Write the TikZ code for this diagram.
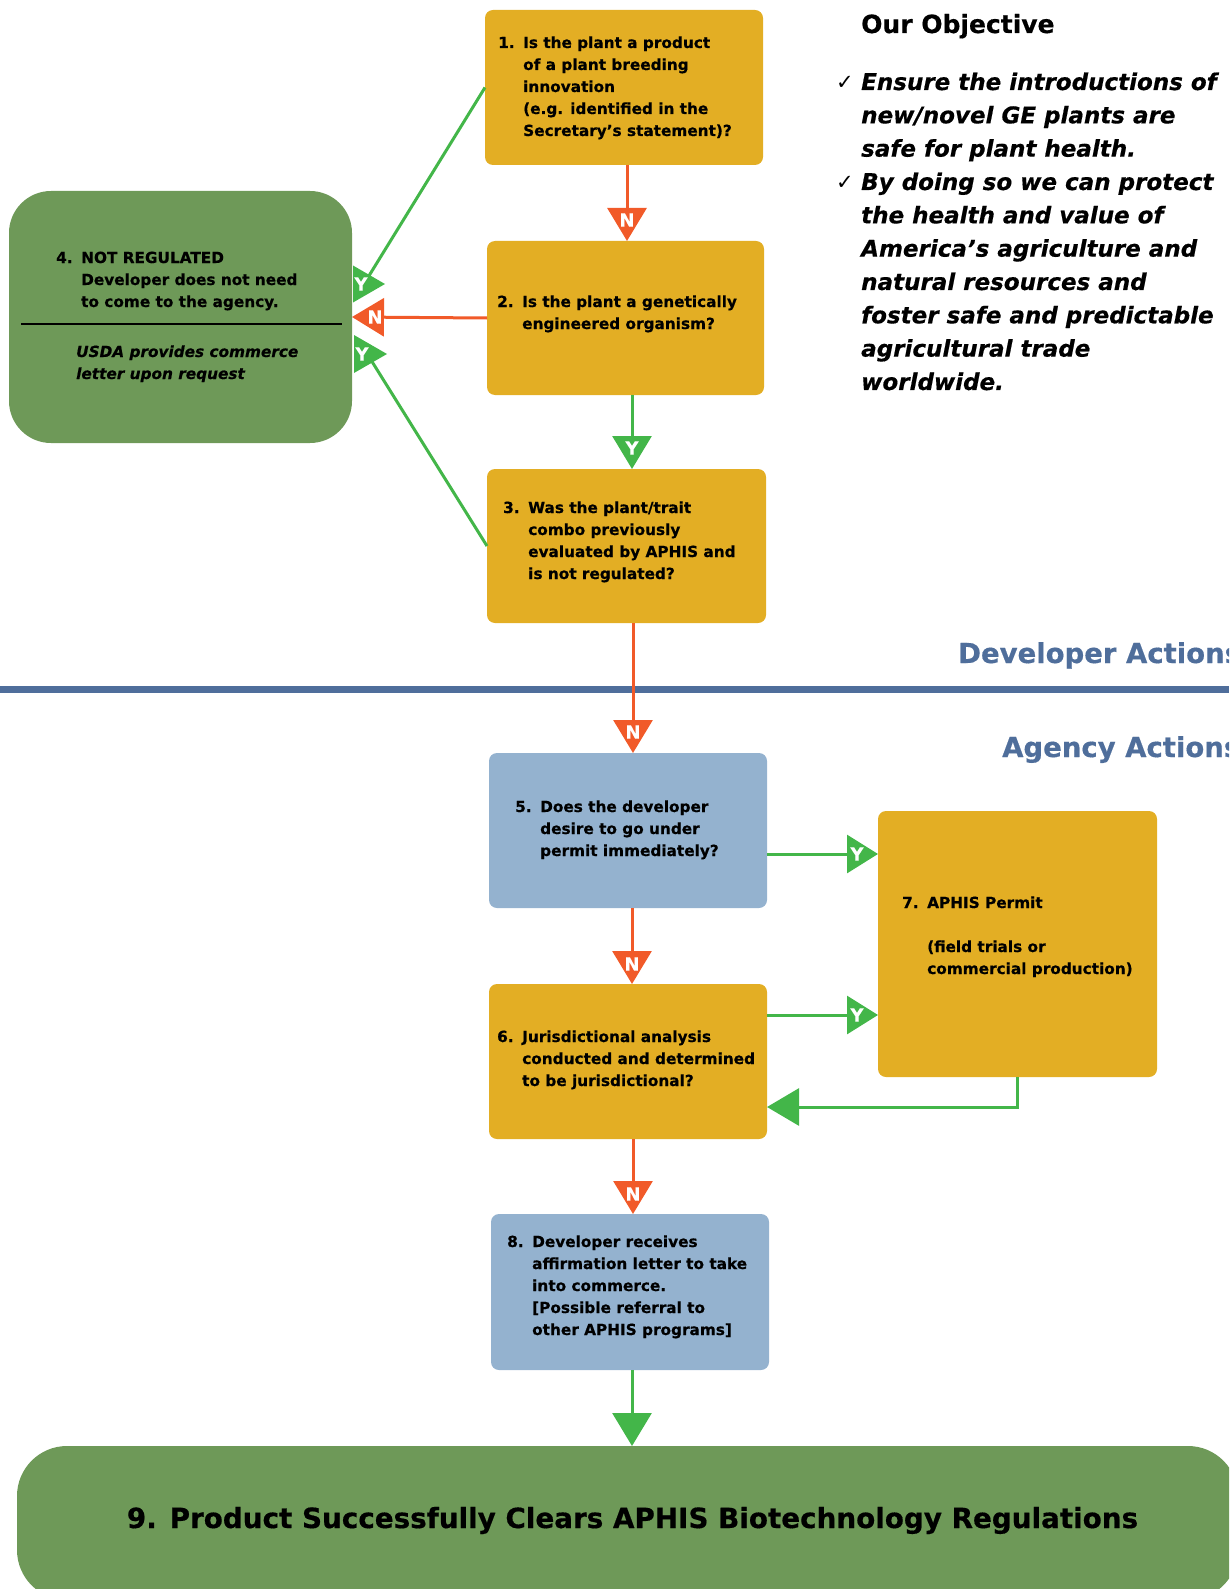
\documentclass[tikz,border=0pt]{standalone}
\usepackage{fontspec}
\setmainfont{DejaVu Sans}[BoldFont={DejaVu Sans Bold},ItalicFont={DejaVu Sans Oblique},BoldItalicFont={DejaVu Sans Bold Oblique},BoldFeatures={FakeBold=0.5},BoldItalicFeatures={FakeBold=0.5}]
\usetikzlibrary{arrows.meta,calc}
\definecolor{gold}{HTML}{E3AE24}
\definecolor{boxgreen}{HTML}{6E9958}
\definecolor{boxblue}{HTML}{94B2CF}
\definecolor{agreen}{HTML}{43B649}
\definecolor{orn}{HTML}{F15A29}
\definecolor{divblue}{HTML}{4F6E9B}
\newcommand\numtext[2]{\makebox[25pt][l]{#1}\begin{tabular}[t]{@{}l@{}}#2\end{tabular}}
\newcommand\ckm{\makebox[25pt][l]{\fontseries{m}\fontshape{n}\fontsize{21}{21}\selectfont ✓}}
\begin{document}
\begin{tikzpicture}[x=1pt,y=-1pt,
  box/.style={rounded corners=8pt, inner sep=0pt, outer sep=0pt, draw=none},
  gbox/.style={box, fill=gold},
  bbox/.style={box, fill=boxblue},
  txt/.style={inner sep=0pt, anchor=base west, font=\fontsize{15.3}{22}\selectfont\bfseries},
  lbl/.style={inner sep=0pt, text=white, font=\fontsize{18}{18}\selectfont\bfseries},
  nar/.style={draw=orn, line width=3pt, -{Triangle[width=39pt,length=33pt]}},
  yar/.style={draw=agreen, line width=3pt, -{Triangle[width=39pt,length=33pt]}},
  yarr/.style={draw=agreen, line width=3pt, -{Triangle[width=38pt,length=31pt]}},
  yline/.style={draw=agreen, line width=3pt},
  hdr/.style={inner sep=0pt, anchor=base west, text=divblue, font=\fontsize{27.5}{30}\selectfont\bfseries}
]
\useasboundingbox (0,0) rectangle (1229,1589);
\clip (0,0) rectangle (1229,1589);

% divider
\draw[line width=7pt, divblue] (0,689.5) -- (1229,689.5);
\node[hdr] (dev) at (958,663) {Developer Actions};
\node[hdr] (agy) at (1002,757) {Agency Actions};

% boxes
\node[gbox, minimum width=278pt, minimum height=155pt] (b1) at (624,87.5) {};
\node[gbox, minimum width=277pt, minimum height=154pt] (b2) at (625.5,318) {};
\node[gbox, minimum width=279pt, minimum height=154pt] (b3) at (626.5,546) {};
\node[box, rounded corners=42pt, fill=boxgreen, minimum width=343pt, minimum height=252pt] (b4) at (180.5,317) {};
\node[bbox, minimum width=278pt, minimum height=155pt] (b5) at (628,830.5) {};
\node[gbox, minimum width=278pt, minimum height=155pt] (b6) at (628,1061.5) {};
\node[gbox, minimum width=279pt, minimum height=266pt] (b7) at (1017.5,944) {};
\node[bbox, minimum width=278pt, minimum height=156pt] (b8) at (630,1292) {};
\node[box, rounded corners=50pt, fill=boxgreen, minimum width=1221pt, minimum height=154pt] (b9) at (627.5,1523) {};

% box texts
\node[txt] (t1) at (498,48) {\numtext{1.}{Is the plant a product\\of a plant breeding\\innovation\\(e.g. identified in the\\Secretary’s statement)?}};
\node[txt] (t2) at (497,307) {\numtext{2.}{Is the plant a genetically\\engineered organism?}};
\node[txt] (t3) at (503,513) {\numtext{3.}{Was the plant/trait\\combo previously\\evaluated by APHIS and\\is not regulated?}};
\node[txt] (t4) at (56,263) {\numtext{4.}{NOT REGULATED\\Developer does not need\\to come to the agency.}};
\node[txt, font=\fontsize{15.3}{22}\selectfont\bfseries\itshape] (t4b) at (76,357) {\begin{tabular}[t]{@{}l@{}}USDA provides commerce\\letter upon request\end{tabular}};
\draw[line width=2pt, black] ([xshift=12pt]b4.west |- 0,324) -- ([xshift=-10pt]b4.east |- 0,324);
\node[txt] (t5) at (515,812) {\numtext{5.}{Does the developer\\desire to go under\\permit immediately?}};
\node[txt] (t6) at (497,1042) {\numtext{6.}{Jurisdictional analysis\\conducted and determined\\to be jurisdictional?}};
\node[txt] (t7) at (902,908) {\numtext{7.}{APHIS Permit\\ \\(field trials or\\commercial production)}};
\node[txt] (t8) at (507,1247) {\numtext{8.}{Developer receives\\affirmation letter to take\\into commerce.\\{}[Possible referral to\\other APHIS programs]}};
\node[inner sep=0pt, anchor=base, font=\fontsize{27.8}{30}\selectfont\bfseries] (t9) at (632.5,1528) {9. Product Successfully Clears APHIS Biotechnology Regulations};

% objective
\node[inner sep=0pt, anchor=base west, font=\fontsize{25}{30}\selectfont\bfseries] (obj) at (861,33) {Our Objective};
\node[inner sep=0pt, anchor=base west, font=\fontsize{23}{33.33}\selectfont\bfseries\itshape] (objl) at (836,90)
 {\begin{tabular}[t]{@{}l@{}l@{}}
 \ckm & Ensure the introductions of\\
  & new/novel GE plants are\\
  & safe for plant health.\\
 \ckm & By doing so we can protect\\
  & the health and value of\\
  & America’s agriculture and\\
  & natural resources and\\
  & foster safe and predictable\\
  & agricultural trade\\
  & worldwide.
 \end{tabular}};

% vertical connectors
\draw[nar] ([xshift=3pt]b1.south) -- ([xshift=1.5pt]b2.north) node[lbl, pos=1, yshift=21pt] (l12) {N};
\draw[yar] ([xshift=6.5pt]b2.south) -- ([xshift=5.5pt]b3.north) node[lbl, pos=1, yshift=21pt] (l23) {Y};
\draw[nar] ([xshift=6.5pt]b3.south) -- ([xshift=5pt]b5.north) node[lbl, pos=1, yshift=21pt] (l35) {N};
\draw[nar] ([xshift=4pt]b5.south) -- ([xshift=4pt]b6.north) node[lbl, pos=1, yshift=20pt] (l56) {N};
\draw[nar] ([xshift=5pt]b6.south) -- ([xshift=3pt]b8.north) node[lbl, pos=1, yshift=20pt] (l68) {N};
\draw[yar] ([xshift=2pt]b8.south) -- ([xshift=4.5pt]b9.north);

% right connectors to box 7
\draw[yarr] ([yshift=-23.5pt]b5.east) -- ([yshift=-23.5pt]b5.east -| b7.west) node[lbl, pos=1, xshift=-21pt] (l57) {Y};
\draw[yarr] ([yshift=46.5pt]b6.east) -- ([yshift=46.5pt]b6.east -| b7.west) node[lbl, pos=1, xshift=-21pt] (l67) {Y};
\draw[draw=agreen, line width=3pt, -{Triangle[width=37pt,length=32pt]}] (b7.south) |- ([yshift=-45.5pt]b6.east);

% connectors to box 4
\draw[draw=orn, line width=3pt, -{Triangle[width=38pt,length=32pt]}] (b2.west) -- (b4.east) node[lbl, pos=1, xshift=23pt] (l24) {N};
\coordinate (fy1) at (367,279);
\coordinate (fy3) at (371,360);
\draw[yline] (b1.west) -- (fy1);
\draw[yline] (b3.west) -- (fy3);
\fill[agreen] (353,265.5) -- (385,284) -- (353,302.5) -- cycle;
\fill[agreen] (354,335) -- (387,354) -- (354,373) -- cycle;
\node[lbl] (l14) at (361,284) {Y};
\node[lbl] (l34) at (362,354) {Y};
\end{tikzpicture}
\end{document}
